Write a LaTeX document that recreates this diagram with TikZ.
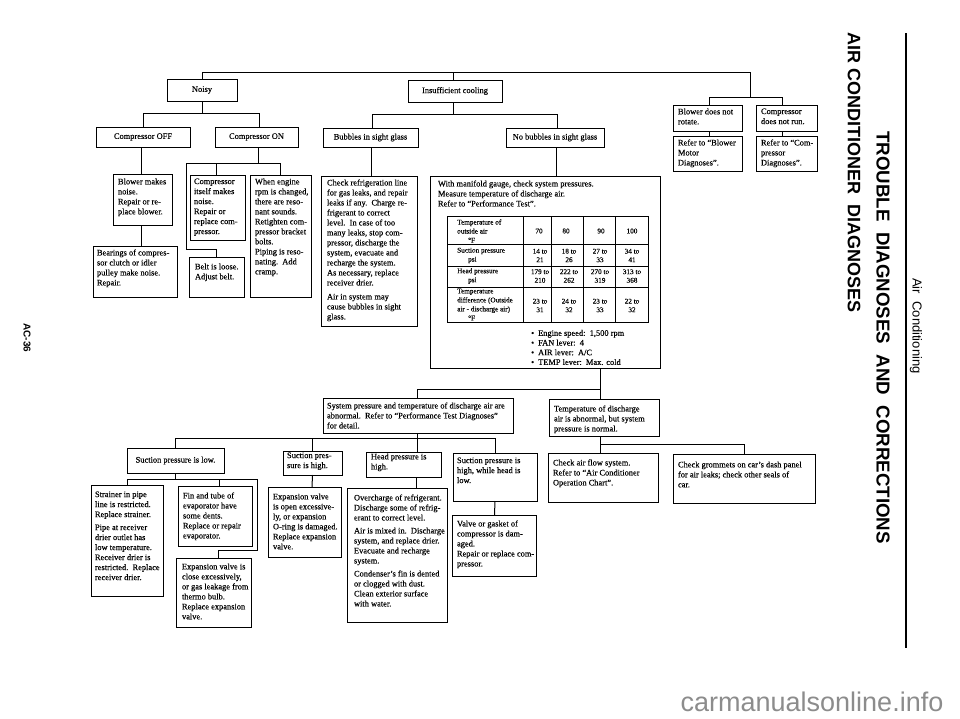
\documentclass[tikz,border=0pt]{standalone}
\usepackage{fontspec}
\setmainfont{Liberation Serif}[FakeBold=0.25]
\newfontfamily\headfont{Liberation Sans}
\newcommand{\notebox}[8]{%
	\pgfmathsetmacro{\boxw}{#4-#2}\pgfmathsetmacro{\boxh}{#5-#3}
	\node[notestyle] (#1) at (#2,#3) {\parbox[c][\boxh pt][t]{\boxw pt}{\leftskip=#6pt \rightskip=0pt plus 1fil \parindent=0pt \vspace*{#7pt}#8}};}
\newcommand{\blob}{\textbullet\hspace{4pt}}
\tikzset{
	notestyle/.style={draw,line width=1pt,anchor=north west,inner sep=0pt,outer sep=0pt,font=\fontsize{8.4}{10}\selectfont},
	headstyle/.style={draw,line width=1pt,inner sep=0pt,outer sep=0pt,font=\fontsize{8.4}{10}\selectfont},
	conn/.style={line width=1pt},
	cell/.style={font=\fontsize{7.2}{8.6}\selectfont,align=center,inner sep=0pt},
	rowhead/.style={font=\fontsize{7.2}{9}\selectfont,align=left,anchor=west,inner sep=0pt}
}
\begin{document}
\begin{tikzpicture}[x=1pt,y=-1pt]
	\useasboundingbox (0,0) rectangle (960,718);
	% first row
	\node[headstyle,minimum width=70pt,minimum height=22pt] (noisy) at (202,90) {Noisy};
	\node[headstyle,minimum width=94pt,minimum height=22pt] (insuff) at (455,91) {Insufficient cooling};
	\node[headstyle,minimum width=94pt,minimum height=20pt] (compoff) at (143,137) {Compressor OFF};
	\node[headstyle,minimum width=83pt,minimum height=20pt] (compon) at (256.5,137) {Compressor ON};
	\node[headstyle,minimum width=95pt,minimum height=19pt] (bubbles) at (370.5,137.5) {Bubbles in sight glass};
	\node[headstyle,minimum width=98pt,minimum height=19pt] (nobub) at (555,137.5) {No bubbles in sight glass};
	% noisy side
	\notebox{blowmk}{113}{174}{172}{225}{5}{4.5}{Blower makes\\noise.\\Repair or re-\\place blower.}
	\notebox{bearings}{93}{246}{177}{297}{4}{3.5}{Bearings of compres-\\sor clutch or idler\\pulley make noise.\\Repair.}
	\notebox{itself}{190}{175}{245}{240}{4}{3.5}{Compressor\\itself makes\\noise.\\Repair or\\replace com-\\pressor.}
	\notebox{belt}{189}{257}{244}{297}{6}{6.5}{Belt is loose.\\Adjust belt.}
	\notebox{engine}{250}{175}{311}{297}{5}{3.5}{When engine\\rpm is changed,\\there are reso-\\nant sounds.\\Retighten com-\\pressor bracket\\bolts.\\Piping is reso-\\nating.\ \ Add\\cramp.}
	\notebox{check}{321}{176}{417}{326}{6}{3.5}{Check refrigeration line\\for gas leaks, and repair\\leaks if any.\ \ Charge re-\\frigerant to correct\\level.\ \ In case of too\\many leaks, stop com-\\pressor, discharge the\\system, evacuate and\\recharge the system.\\As necessary, replace\\receiver drier.\\[4pt]Air in system may\\cause bubbles in sight\\glass.}
	\notebox{manifold}{430}{176}{660}{368}{8}{4.5}{With manifold gauge, check system pressures.\\Measure temperature of discharge air.\\Refer to “Performance Test”.}
	% table in the manifold box
	\draw[conn] (447,216) rectangle (648,322);
	\foreach \x in {523,551,583,615} \draw[conn] (\x,216) -- (\x,322);
	\foreach \y in {244,266,287} \draw[conn] (447,\y) -- (648,\y);
	\node[rowhead] (rowa) at (457,231) {Temperature of\\outside air\\\hspace*{11pt}°F};
	\node[rowhead] (rowb) at (457,255.5) {Suction pressure\\\hspace*{11pt}psi};
	\node[rowhead] (rowc) at (457,276) {Head pressure\\\hspace*{11pt}psi};
	\node[rowhead] (rowd) at (457,304.5) {Temperature\\difference (Outside\\air - discharge air)\\\hspace*{11pt}°F};
	\foreach \x/\t in {539/70,566/80,601/90,632/100} \node[cell] (ta\t) at (\x,231) {\t};
	\foreach \x/\t/\u in {540/14/21,569/18/26,600/27/33,632/34/41} \node[cell] (tb\t) at (\x,255.5) {\t\ to\\\u};
	\foreach \x/\t/\u in {540/179/210,569/222/262,600/270/319,632/313/368} \node[cell] (tc\t) at (\x,276) {\t\ to\\\u};
	\foreach \x/\t/\u/\n in {540/23/31/a,569/24/32/b,600/23/33/c,632/22/32/d} \node[cell] (td\n) at (\x,305.5) {\t\ to\\\u};
	\node[font=\fontsize{8.4}{9.7}\selectfont,align=left,anchor=west,inner sep=0pt] (levers) at (531,347.5) {\blob Engine speed:\ \ 1,500 rpm\\\blob FAN lever:\ \ 4\\\blob AIR lever:\ \ A/C\\\blob TEMP lever:\ \ Max. cold};
	% far right
	\notebox{blowrot}{673}{105}{742}{131}{5}{3.5}{Blower does not\\rotate.}
	\notebox{compnr}{756}{105}{817}{131}{5}{3.5}{Compressor\\does not run.}
	\notebox{referb}{673}{136}{742}{171}{5}{3.5}{Refer to “Blower\\Motor\\Diagnoses”.}
	\notebox{referc}{756}{136}{817}{171}{5}{3.5}{Refer to “Com-\\pressor\\Diagnoses”.}
	% lower half
	\notebox{syspress}{323}{398}{513}{433}{4}{4.5}{System pressure and temperature of discharge air are\\abnormal.\ \ Refer to “Performance Test Diagnoses”\\for detail.}
	\notebox{tempab}{549}{399}{659}{436}{5}{6.5}{Temperature of discharge\\air is abnormal, but system\\pressure is normal.}
	\notebox{checkair}{548}{453}{658}{502}{5}{6.5}{Check air flow system.\\Refer to “Air Conditioner\\Operation Chart”.}
	\notebox{grommets}{673}{454}{815}{503}{5}{7.5}{Check grommets on car’s dash panel\\for air leaks; check other seals of\\car.}
	\node[headstyle,minimum width=97pt,minimum height=25pt] (suclow) at (175.5,460.5) {Suction pressure is low.};
	\notebox{suchigh}{283}{451}{342}{475}{4}{1.5}{Suction pres-\\sure is high.}
	\notebox{headhigh}{366}{452}{441}{477}{5}{1.5}{Head pressure is\\high.}
	\notebox{suchead}{453}{453}{537}{501}{4}{4.5}{Suction pressure is\\high, while head is\\low.}
	\notebox{valve}{452}{515}{536}{576}{5}{5.5}{Valve or gasket of\\compressor is dam-\\aged.\\Repair or replace com-\\pressor.}
	\notebox{overch}{347}{488}{447}{622}{7}{6.5}{Overcharge of refrigerant.\\Discharge some of refrig-\\erant to correct level.\\[3pt]Air is mixed in.\ \ Discharge\\system, and replace drier.\\Evacuate and recharge\\system.\\[3pt]Condenser’s fin is dented\\or clogged with dust.\\Clean exterior surface\\with water.}
	\notebox{expopen}{268}{487}{341}{557}{5}{6.5}{Expansion valve\\is open excessive-\\ly, or expansion\\O-ring is damaged.\\Replace expansion\\valve.}
	\notebox{strainer}{91}{485}{163}{596}{4}{6.5}{Strainer in pipe\\line is restricted.\\Replace strainer.\\[3pt]Pipe at receiver\\drier outlet has\\low temperature.\\Receiver drier is\\restricted.\ \ Replace\\receiver drier.}
	\notebox{fin}{178}{486}{252}{546}{5}{6.5}{Fin and tube of\\evaporator have\\some dents.\\Replace or repair\\evaporator.}
	\notebox{expclose}{176}{558}{251}{627}{6}{5.5}{Expansion valve is\\close excessively,\\or gas leakage from\\thermo bulb.\\Replace expansion\\valve.}
	% branch points
	\coordinate (jright) at (750,72);
	\coordinate (jrun) at (750,97);
	\coordinate (jcool) at (453.5,114);
	\coordinate (jnoisy) at (202,113);
	\coordinate (jon) at (258,163);
	\coordinate (jbelt) at (186,249);
	\coordinate (jlow) at (600,389);
	\coordinate (jtemp) at (600,444);
	\coordinate (jsys) at (417,438);
	\coordinate (jsuc) at (175.5,479);
	\coordinate (jsucr) at (257,550);
	% connectors
	\draw[conn] (noisy.north) |- (jright) -- (jrun);
	\draw[conn] ([xshift=-1.5pt]insuff.north) |- (jright);
	\draw[conn] ([xshift=1.5pt]blowrot.north) |- (jrun);
	\draw[conn] ([xshift=-4.5pt]compnr.north) |- (jrun);
	\draw[conn] ([xshift=1.5pt]blowrot.south) -- ([xshift=1.5pt]referb.north);
	\draw[conn] ([xshift=-4.5pt]compnr.south) -- ([xshift=-4.5pt]referc.north);
	\draw[conn] ([xshift=-1.5pt]insuff.south) -- (jcool);
	\draw[conn] ([xshift=1.5pt]bubbles.north) |- (jcool);
	\draw[conn] ([xshift=2pt]nobub.north) |- (jcool);
	\draw[conn] ([xshift=.5pt]bubbles.south) -- ([xshift=2pt]check.north);
	\draw[conn] ([xshift=1pt]nobub.south) -- ([xshift=11pt]manifold.north);
	\draw[conn] (noisy.south) -- (jnoisy);
	\draw[conn] (compoff.north) |- (jnoisy);
	\draw[conn] ([xshift=2.5pt]compon.north) |- (jnoisy);
	\draw[conn] ([xshift=-2pt]compoff.south) -- ([xshift=-1.5pt]blowmk.north);
	\draw[conn] ([xshift=-1.5pt]blowmk.south) -- ([xshift=6pt]bearings.north);
	\draw[conn] ([xshift=1.5pt]compon.south) -- (jon);
	\draw[conn] ([xshift=-1.5pt]itself.north) |- (jon);
	\draw[conn] (engine.north) |- (jon);
	\draw[conn] (belt.north) |- (jbelt) |- (jon);
	\draw[conn] ([xshift=55pt]manifold.south) -- ([xshift=-4pt]tempab.north);
	\draw[conn] ([xshift=-1pt]syspress.north) |- (jlow);
	\draw[conn] ([xshift=-4pt]tempab.south) -- ([xshift=-3pt]checkair.north);
	\draw[conn] (grommets.north) |- (jtemp);
	\draw[conn] ([xshift=-1pt]syspress.south) -- ([xshift=13.5pt]headhigh.north);
	\draw[conn] (suclow.north) |- (jsys);
	\draw[conn] (suchigh.north) |- (jsys);
	\draw[conn] (suchead.north) |- (jsys);
	\draw[conn] (suclow.south) -- (jsuc);
	\draw[conn] (strainer.north) |- (jsuc);
	\draw[conn] ([xshift=4pt]fin.north) |- (jsuc);
	\draw[conn] ([xshift=4.5pt]expclose.north) |- (jsucr) |- (jsuc);
	\draw[conn] (suchigh.south) -- ([xshift=7.5pt]expopen.north);
	\draw[conn] ([xshift=12.5pt]headhigh.south) -- ([xshift=19pt]overch.north);
	\draw[conn] (suchead.south) -- ([xshift=.5pt]valve.north);
	% titles
	\draw[line width=1.2pt] (906,33) coordinate (ruletop) -- (906,648) coordinate (rulebot);
	\node[rotate=-90,inner sep=0pt,font=\headfont\bfseries\fontsize{18.7}{24}\selectfont] (title) at (883,337.5) {TROUBLE\ \ DIAGNOSES\ \ AND\ \ CORRECTIONS};
	\node[rotate=-90,inner sep=0pt,font=\headfont\bfseries\fontsize{18}{20}\selectfont] (subtitle) at (854,173) {AIR CONDITIONER\ \ DIAGNOSES};
	\node[rotate=-90,inner sep=0pt,font=\headfont\fontsize{13}{15}\selectfont] (section) at (916,326) {Air\ \ Conditioning};
	\node[rotate=-90,inner sep=0pt,font=\headfont\bfseries\fontsize{10}{12}\selectfont] (pageno) at (27,338) {AC-36};
	\node[inner sep=0pt,text=black!45,font=\headfont\fontsize{27}{30}\selectfont] (mark) at (812,702) {carmanualsonline.info};
\end{tikzpicture}
\end{document}
